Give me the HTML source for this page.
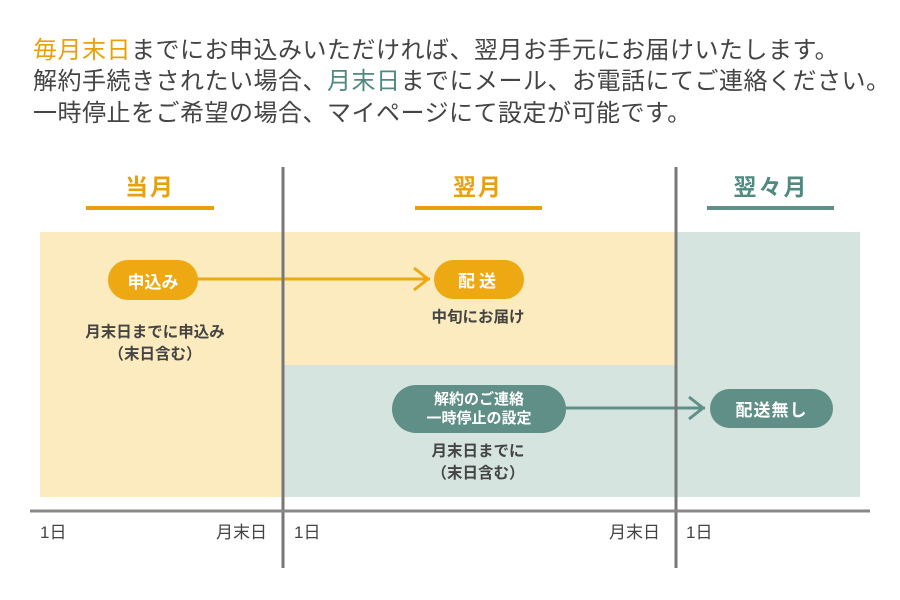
<!DOCTYPE html>
<html><head><meta charset="utf-8"><style>
body{margin:0;width:900px;height:600px;background:#fff;position:relative;font-family:"Liberation Sans","Noto Sans CJK JP",sans-serif;color:#444;overflow:hidden}
.a{position:absolute}
.t{position:absolute;left:33px;font-size:24px;white-space:nowrap;letter-spacing:0.5px}
.o{color:#E8A10C}.g{color:#4F8A80}
.h{position:absolute;font-size:23px;font-weight:bold;text-align:center;transform:translateX(-50%);letter-spacing:2px}
.pill{position:absolute;color:#fff;font-weight:bold;display:flex;align-items:center;justify-content:center;text-align:center;border-radius:22px}
.s{position:absolute;font-size:15.5px;font-weight:bold;text-align:center;transform:translateX(-50%);line-height:22px;white-space:nowrap;color:#444}
.ax{position:absolute;top:518px;font-size:17px;color:#444}
</style></head><body>
<div class="t" style="top:30px"><span class="o">毎月末日</span>までにお申込みいただければ、翌月お手元にお届けいたします。</div>
<div class="t" style="top:61px">解約手続きされたい場合、<span class="g">月末日</span>までにメール、お電話にてご連絡ください。</div>
<div class="t" style="top:93px">一時停止をご希望の場合、マイページにて設定が可能です。</div>

<div class="h o" style="left:150px;top:168px">当月</div>
<div class="a" style="left:86px;top:206px;width:128px;height:4px;background:#E8A10C"></div>
<div class="h o" style="left:478px;top:168px">翌月</div>
<div class="a" style="left:415px;top:206px;width:127px;height:4px;background:#E8A10C"></div>
<div class="h g" style="left:771px;top:168px">翌々月</div>
<div class="a" style="left:707px;top:206px;width:127px;height:4px;background:#5F8F86"></div>

<div class="a" style="left:40px;top:232px;width:636px;height:133px;background:#FCEBBE"></div>
<div class="a" style="left:40px;top:365px;width:243px;height:132px;background:#FCEBBE"></div>
<div class="a" style="left:283px;top:365px;width:577px;height:132px;background:#D6E4E0"></div>
<div class="a" style="left:676px;top:232px;width:184px;height:133px;background:#D6E4E0"></div>

<svg class="a" style="left:0;top:0" width="900" height="600">
<line x1="195" y1="279" x2="430" y2="279" stroke="#EDA812" stroke-width="3"/>
<polyline points="414,268 428,279 414,290" fill="none" stroke="#EDA812" stroke-width="3"/>
<line x1="560" y1="408" x2="705" y2="408" stroke="#5F8F86" stroke-width="3"/>
<polyline points="689,397 703,408 689,419" fill="none" stroke="#5F8F86" stroke-width="3"/>
<line x1="283" y1="167" x2="283" y2="568" stroke="#777" stroke-width="3"/>
<line x1="676" y1="167" x2="676" y2="568" stroke="#777" stroke-width="3"/>
<line x1="30" y1="511" x2="870" y2="511" stroke="#888" stroke-width="3"/>
</svg>

<div class="pill" style="left:108px;top:260px;width:90px;height:40px;background:#EDA812;font-size:17px">申込み</div>
<div class="pill" style="left:434px;top:260px;width:90px;height:39px;background:#EDA812;font-size:17px;letter-spacing:4px">配送</div>
<div class="pill" style="left:392px;top:385px;width:174px;height:48px;background:#5F8F86;font-size:15px;line-height:19px;border-radius:24px">解約のご連絡<br>一時停止の設定</div>
<div class="pill" style="left:710px;top:389px;width:123px;height:39px;background:#5F8F86;font-size:17px;letter-spacing:1px">配送無し</div>

<div class="s" style="left:155px;top:322px">月末日までに申込み<br>（末日含む）</div>
<div class="s" style="left:478px;top:307px">中旬にお届け</div>
<div class="s" style="left:478px;top:441px">月末日までに<br>（末日含む）</div>

<div class="ax" style="left:40px">1日</div>
<div class="ax" style="left:216px">月末日</div>
<div class="ax" style="left:294px">1日</div>
<div class="ax" style="left:609px">月末日</div>
<div class="ax" style="left:686px">1日</div>
</body></html>
